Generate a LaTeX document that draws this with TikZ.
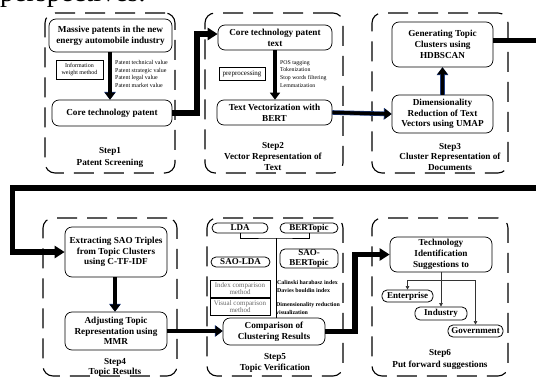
\documentclass[tikz,border=0pt]{standalone}
\usepackage{fontspec}
\setmainfont{Liberation Serif}
\usetikzlibrary{arrows.meta}
\definecolor{edgeblue}{RGB}{30,60,130}
\begin{document}
\begin{tikzpicture}[x=1pt,y=-1pt,
  frame/.style={draw, rounded corners=10pt, line width=1.1pt, dash pattern=on 20pt off 10pt},
  box/.style={draw, rounded corners=7pt, line width=0.7pt, align=center, inner sep=1pt,
    font=\bfseries\fontsize{9.2}{10.8}\selectfont},
  pill/.style={draw, rounded corners=5pt, line width=0.8pt, align=center, inner sep=0pt,
    font=\bfseries\fontsize{9}{10}\selectfont},
  rbox/.style={draw, line width=0.8pt, align=center, inner sep=0.5pt},
  lbl/.style={align=center, inner sep=0pt},
  small/.style={align=left, inner sep=0pt, anchor=north west},
  fatb/.style={line width=3.4pt, -{Triangle[length=7pt,width=10pt]}},
  fat/.style={fatb, preaction={draw=edgeblue, line width=4.6pt, -{Triangle[length=7.8pt,width=11.4pt]}}},
  conn/.style={line width=5.5pt, -{Triangle[length=10pt,width=12pt]}},
  connl/.style={line width=5.5pt},
  thinl/.style={line width=0.6pt},
  thinarr/.style={line width=0.6pt, black!80, -{Triangle[length=3.5pt,width=3.5pt]}}
]
\useasboundingbox (0,0) rectangle (536,378);

% cut-off text at the top
\node[anchor=base west, inner sep=0pt, font=\fontsize{28}{30}\selectfont] (ptxt) at (0,1) {perspectives.};

% frames
\node[frame, minimum width=130pt, minimum height=160pt] (f1) at (110,93) {};
\node[frame, minimum width=138pt, minimum height=160pt] (f2) at (274,93) {};
\node[frame, minimum width=136pt, minimum height=160pt] (f3) at (440,93) {};
\node[frame, minimum width=134pt, minimum height=158pt] (f4) at (110,297) {};
\node[frame, minimum width=136pt, minimum height=158pt] (f5) at (275,297) {};
\node[frame, minimum width=136pt, minimum height=158pt] (f6) at (440,297) {};

% Step 1
\node[box, minimum width=123pt, minimum height=33pt] (n1a) at (110.5,35.5) {Massive patents in the new\\energy automobile industry};
\node[box, minimum width=120pt, minimum height=26pt] (n1b) at (112,113) {Core technology patent};
\node[rbox, minimum width=47pt, minimum height=19pt, font=\fontsize{6}{7}\selectfont] (info) at (79.5,69.5) {Information\\weight method};
\node[small, font=\fontsize{6}{7.7}\selectfont] (l1) at (115,60) {Patent technical value\\Patent strategic value\\Patent legal value\\Patent market value};
\node[lbl, font=\bfseries\fontsize{9.2}{12}\selectfont] (s1) at (110,157) {Step1\\Patent Screening};
\draw[fat] (n1a.south -| 110,0) -- (n1b.north -| 110,0);

% Step 2
\node[box, minimum width=114pt, minimum height=25pt] (n2a) at (275,37.5) {Core technology patent\\text};
\node[box, minimum width=115pt, minimum height=25pt] (n2b) at (274.5,112.5) {Text Vectorization with\\BERT};
\node[rbox, minimum width=46pt, minimum height=13pt, font=\fontsize{7}{8}\selectfont] (pre) at (242,73.5) {preprocessing};
\node[small, font=\fontsize{5.8}{7.7}\selectfont] (l2) at (280,60) {POS tagging\\Tokenization\\Stop words filtering\\Lemmatization};
\node[lbl, font=\bfseries\fontsize{9.2}{11}\selectfont] (s2) at (273,156) {Step2\\Vector Representation of\\Text};
\draw[fatb] (n2a.south -| 275,0) -- (n2b.north -| 275,0);

% Step 3
\node[box, minimum width=101pt, minimum height=45pt] (n3a) at (442.5,44.5) {Generating Topic\\Clusters using\\HDBSCAN};
\node[box, minimum width=101pt, minimum height=38pt] (n3b) at (442.5,114) {Dimensionality\\Reduction of Text\\Vectors using UMAP};
\node[lbl, font=\bfseries\fontsize{9.2}{10.5}\selectfont] (s3) at (450,157) {Step3\\Cluster Representation of\\Documents};
\draw[fat] (n3b.north) -- (n3a.south);

% Step 4
\node[box, minimum width=102pt, minimum height=50pt] (n4a) at (116,252) {Extracting SAO Triples\\from Topic Clusters\\using C-TF-IDF};
\node[box, minimum width=102pt, minimum height=38pt] (n4b) at (116,331) {Adjusting Topic\\Representation using\\MMR};
\node[lbl, font=\bfseries\fontsize{9.2}{9.5}\selectfont] (s4) at (115,367.5) {Step4\\Topic Results};
\draw[fat] (n4a.south -| 115,0) -- (n4b.north -| 115,0);

% Step 5
\node[pill, minimum width=56pt, minimum height=10pt] (lda) at (240,228) {LDA};
\node[pill, minimum width=58pt, minimum height=10pt] (bert) at (309,228) {BERTopic};
\node[pill, minimum width=59pt, minimum height=10pt] (slda) at (240.5,262) {SAO-LDA};
\node[pill, minimum width=58pt, minimum height=19pt] (sbert) at (309,258.5) {SAO-\\BERTopic};
\node[rbox, minimum width=60pt, minimum height=17pt, text=black!60, font=\fontsize{7}{7.5}\selectfont] (idx) at (240,288.5) {Index comparison\\method};
\node[rbox, minimum width=60pt, minimum height=17pt, text=black!60, font=\fontsize{7}{7.5}\selectfont] (vis) at (240,306.5) {Visual comparison\\method};
\node[small, font=\bfseries\fontsize{5.9}{8}\selectfont] (l3) at (277,280) {Calinski harabasz index\\Davies bouldin index};
\node[small, font=\bfseries\fontsize{5.9}{8}\selectfont] (l4) at (276,302) {Dimensionality reduction\\visualization};
\node[box, minimum width=102pt, minimum height=27pt] (n5c) at (274,331.5) {Comparison of\\Clustering Results};
\node[lbl, font=\bfseries\fontsize{9.2}{11}\selectfont] (s5) at (275,362.5) {Step5\\Topic Verification};
\coordinate (tj) at (276,238);
\draw[thinl] (lda.south) |- (tj) -| (bert.south);
\draw[thinl] (tj) -- (tj |- n5c.north);

% Step 6
\node[box, minimum width=102pt, minimum height=35pt] (n6a) at (441,254.5) {Technology\\Identification\\Suggestions to};
\node[pill, minimum width=51pt, minimum height=12pt] (ent) at (407.5,296) {Enterprise};
\node[pill, minimum width=52pt, minimum height=13pt] (ind) at (441,313.5) {Industry};
\node[pill, minimum width=55pt, minimum height=12pt] (gov) at (475.5,331) {Government};
\node[lbl, font=\bfseries\fontsize{9.2}{12}\selectfont] (s6) at (440,359) {Step6\\Put forward suggestions};
\coordinate (sj) at (441,280);
\draw[thinl, black!80] (n6a.south) -- (sj);
\draw[thinl, black!80] (ent.north |- sj) -- (gov.north |- sj);
\draw[thinarr] (ent.north |- sj) -- (ent.north);
\draw[thinarr] (sj) -- (ind.north);
\draw[thinarr] (gov.north |- sj) -- (gov.north);

% connectors between steps
\coordinate (c1) at (197,113);
\coordinate (n2in) at ([yshift=3.5pt]n2a.west);
\draw[conn] (n1b.east) -- (n1b.east -| c1) -- (c1 |- n2in) -- (n2in);
\draw[fat] (n2b.east) -- (n3b.west);
\coordinate (e1) at (536,40.5);
\coordinate (n3out) at ([yshift=4pt]n3a.east);
\draw[connl] (n3out) -- (e1);
\coordinate (w1) at (536,188);
\coordinate (w2) at (12.5,188);
\draw[conn] (w1) -- (w2) |- (n4a.west);
\draw[fat] (n4b.east) -- (n5c.west |- n4b.east);
\coordinate (c5) at (355,300);
\draw[conn] (n5c.east) -- (n5c.east -| c5) -- (c5 |- n6a.west) -- (n6a.west);
\end{tikzpicture}
\end{document}
